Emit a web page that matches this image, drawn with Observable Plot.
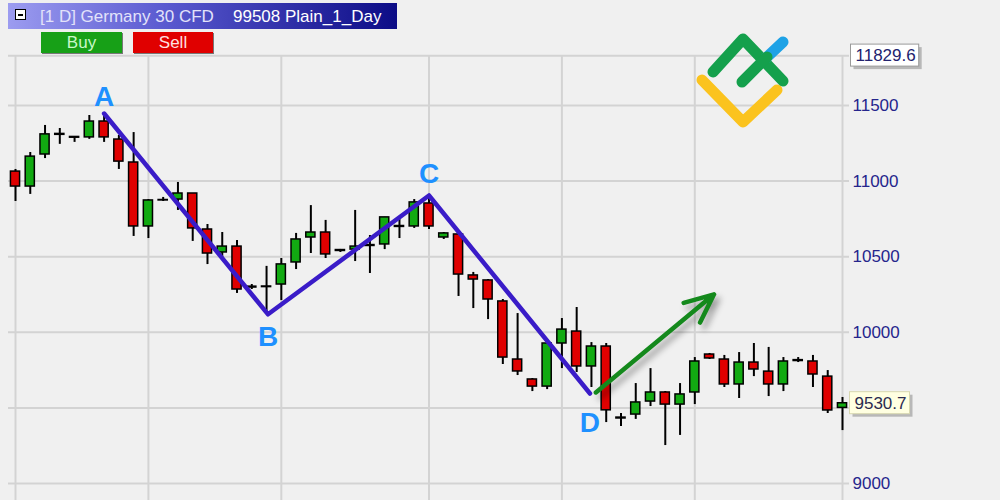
<!DOCTYPE html>
<html><head><meta charset="utf-8">
<script src="https://cdn.jsdelivr.net/npm/d3@7"></script>
<script src="https://cdn.jsdelivr.net/npm/@observablehq/plot@0.6"></script>
<style>
body{margin:0;background:#f0f0f0;font-family:Arial,"Liberation Sans",sans-serif;}
#wrap{position:relative;width:1000px;height:500px;overflow:hidden;background:#f0f0f0;}
#chart{position:absolute;left:0;top:0;}
#bar{position:absolute;left:8px;top:3px;width:389px;height:26px;background:linear-gradient(to right,#9c9cf0 0%,#5a5ad0 40%,#0c0c86 100%);}
#bar .ico{position:absolute;left:7px;top:6px;width:9px;height:9px;background:#fff;border:1px solid #000;}
#bar .ico:after{content:"";position:absolute;left:2px;top:4px;width:5px;height:2px;background:#000;}
#bar .t1{position:absolute;left:32px;top:4px;font-size:17px;color:#e2e2fa;white-space:nowrap;}
#bar .t2{position:absolute;left:225px;top:4px;font-size:17px;color:#ffffff;white-space:nowrap;}
.btn{position:absolute;top:32px;height:21px;font-size:17px;line-height:21px;text-align:center;box-shadow:1px 1px 0 #777;}
#buy{left:41px;width:81px;background:#17a017;color:#c8f8c8;}
#sell{left:133px;width:80px;background:#e00000;color:#ffe0e0;}
#logo{position:absolute;left:695px;top:30px;}
</style></head><body>
<div id="wrap">
  <div id="chart"></div>
  <div id="bar"><div class="ico"></div><span class="t1">[1 D] Germany 30 CFD</span><span class="t2">99508 Plain_1_Day</span></div>
  <div class="btn" id="buy">Buy</div>
  <div class="btn" id="sell">Sell</div>
  <svg id="logo" width="100" height="100" viewBox="0 0 100 100">
    <g fill="none" stroke-linecap="round" stroke-linejoin="round" stroke-width="11">
      <polyline points="7,50 48,92 82,60" stroke="#fbc31e"/>
      <polyline points="18,42 48,9 88,51" stroke="#14a04c"/>
      <line x1="71" y1="28" x2="88" y2="12" stroke="#1ea2e6"/>
      <line x1="47" y1="52" x2="72" y2="27" stroke="#14a04c"/>
    </g>
  </svg>
</div>
<script>
// trading-day index of each candle
const days = d3.range(1, 58);
const open  = [11063,10964,11176,11306,11292,11289,11394,11275,11123,10700,10875,10878,10918,10680,10528,10567,10296,10303,10316,10462,10627,10660,10538,10547,10571,10581,10697,10700,10852,10627,10647,10376,10343,10204,9820,9688,9641,9926,10005,9774,9906,9430,9456,9542,9602,9522,9602,9853,9820,9655,9800,9740,9655,9810,9807,9707,9500];
const high  = [11077,11189,11368,11348,11293,11434,11440,11302,11321,10878,10892,10991,10918,10713,10660,10607,10316,10436,10488,10654,10838,10740,10548,10806,10640,10760,10766,10878,10905,10660,10660,10396,10349,10217,10124,9694,9932,10091,10164,9932,9926,9463,9661,9760,9608,9661,9833,9860,9847,9866,9926,9900,9833,9833,9847,9747,9569];
const low   = [10865,10912,11149,11243,11256,11276,11256,11077,10634,10620,10865,10806,10601,10448,10495,10257,10283,10125,10210,10415,10521,10488,10528,10468,10389,10547,10620,10687,10680,10614,10237,10157,10084,9787,9714,9608,9621,9760,9734,9635,9403,9377,9424,9509,9251,9318,9522,9820,9635,9562,9707,9575,9608,9800,9635,9463,9350];
const close = [10964,11162,11309,11312,11287,11394,11289,11129,10700,10872,10872,10918,10687,10521,10567,10283,10302,10299,10449,10614,10660,10515,10544,10567,10577,10760,10703,10859,10700,10654,10382,10349,10217,9833,9741,9641,9926,10018,9774,9906,9484,9436,9536,9602,9522,9589,9807,9827,9655,9800,9754,9655,9807,9816,9721,9483,9530.7];

// axis
const gridPrices = [9000, 9500, 10000, 10500, 11000, 11500];
const priceLabels = [9000, 10000, 10500, 11000, 11500];
const gridDays = [1, 10, 19, 29, 38, 47, 57];
const topPrice = 11829.6;
const lastPrice = 9530.7;

// ABCD pattern
const pointLabels = ["A", "B", "C", "D"];
const pointDay = [7, 18.1, 29, 39.9];
const pointPrice = [11447, 10119, 10905, 9595];

// projected move arrow
const arrowDay = [40.3, 48.3];
const arrowPrice = [9602, 10251];

const candles = days.map((d, i) => ({day: d, open: open[i], high: high[i], low: low[i], close: close[i]}));
const pts = pointLabels.map((l, i) => ({label: l, day: pointDay[i], price: pointPrice[i]}));
const labelDy = {A: -16, B: 23, C: -21, D: 29};

const grid = "#d3d3d3";
const chart = Plot.plot({
  width: 1000, height: 500,
  marginTop: 55, marginBottom: 0, marginLeft: 8, marginRight: 151,
  x: {type: "linear", domain: [1, 57], range: [15, 842], axis: null},
  y: {type: "linear", domain: [9000, 11500], range: [483, 105], axis: null},
  style: {background: "#f0f0f0", fontFamily: "Arial, 'Liberation Sans', sans-serif", overflow: "visible"},
  marks: [
    Plot.ruleY(gridPrices, {y: d => d, stroke: grid, strokeWidth: 2}),
    Plot.ruleY([topPrice], {y: d => d, stroke: grid, strokeWidth: 2}),
    Plot.ruleX(gridDays, {x: d => d, stroke: grid, strokeWidth: 2}),
    Plot.text(priceLabels, {y: d => d, text: d => String(d), frameAnchor: "right", dx: 3, textAnchor: "start", fill: "#25258c", fontSize: 17}),
    Plot.ruleX(candles, {x: "day", y1: "low", y2: "high", stroke: "#000", strokeWidth: 2}),
    Plot.rect(candles, {x1: d => d.day - 0.31, x2: d => d.day + 0.31, y1: "open", y2: "close",
      fill: d => d.close >= d.open ? "#12aa12" : "#e00000", stroke: "#000", strokeWidth: 1.5}),
    Plot.line(pts, {x: "day", y: "price", stroke: "#3a1cc8", strokeWidth: 4.5, strokeLinejoin: "round", strokeLinecap: "round"}),
    ...pointLabels.map(l => Plot.text(pts.filter(p => p.label === l), {x: "day", y: "price", text: "label", dy: labelDy[l],
      fill: "#1e90ff", fontSize: 28, fontWeight: "bold"})),
    Plot.arrow([0], {x1: () => arrowDay[0], y1: () => arrowPrice[0], x2: () => arrowDay[1], y2: () => arrowPrice[1],
      stroke: "#14891c", strokeWidth: 4.5, headLength: 10.5, headAngle: 48}),
    Plot.text([topPrice], {y: d => d, text: d => d.toFixed(1), frameAnchor: "right", dx: 6, textAnchor: "start", fill: "#22226e", fontSize: 17}),
    Plot.text([lastPrice], {y: d => d, text: d => d.toFixed(1), frameAnchor: "right", dx: 5, textAnchor: "start", fill: "#2a2a50", fontSize: 17})
  ]
});
document.getElementById("chart").append(chart);

const svg = d3.select(chart);
svg.selectAll('g[aria-label="arrow"]').style("filter", "drop-shadow(4px 5px 3px rgba(0,0,0,0.35))");
function boxify(str, fill, border) {
  svg.selectAll("text").filter(function () { return this.textContent === str; }).each(function () {
    const node = this;
    const b = node.getBBox();
    const tr = node.getAttribute("transform");
    const parent = d3.select(node.parentNode);
    const x = b.x - 5, y = b.y - 2, w = b.width + 8, h = b.height + 3;
    parent.insert("rect", () => node).attr("transform", tr).attr("x", x + 3).attr("y", y + 3).attr("width", w).attr("height", h)
      .attr("fill", "#8a8a8a").attr("fill-opacity", 0.55).attr("stroke", "none");
    parent.insert("rect", () => node).attr("transform", tr).attr("x", x).attr("y", y).attr("width", w).attr("height", h)
      .attr("fill", fill).attr("stroke", border).attr("stroke-width", 1);
  });
}
boxify("11829.6", "#ffffff", "#9a9a9a");
boxify("9530.7", "#ffffe1", "#d8d8b0");
</script>
</body></html>
